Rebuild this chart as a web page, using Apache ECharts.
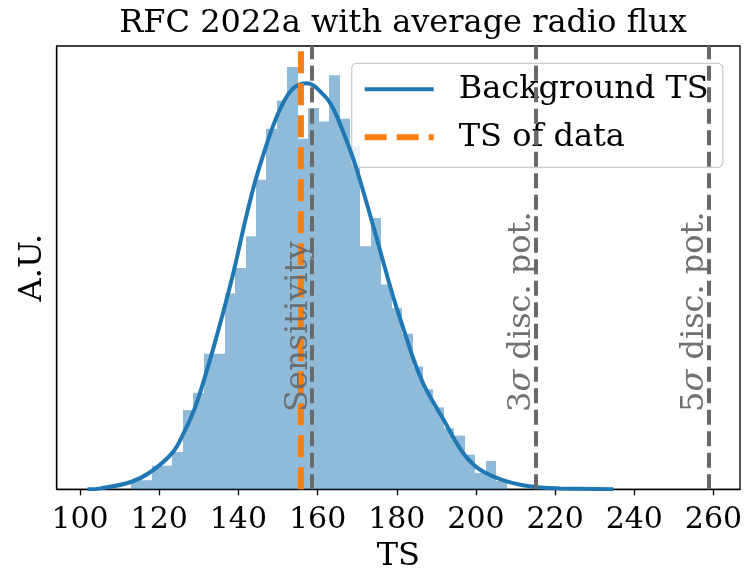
<!DOCTYPE html>
<html><head><meta charset="utf-8">
<script src="https://cdn.jsdelivr.net/npm/echarts@6/dist/echarts.min.js"></script>
<style>html,body{margin:0;padding:0;background:#fff}#c{width:752px;height:569px}</style>
</head><body><div id="c"></div>
<script>
// ---- data ----
const titleText = 'RFC 2022a with average radio flux';
const binEdges = [112.80,115.44,118.07,120.71,123.35,125.99,128.62,131.26,133.90,136.53,139.17,141.81,144.44,147.08,149.72,152.36,154.99,157.63,160.27,162.90,165.54,168.18,170.81,173.45,176.09,178.73,181.36,184.00,186.64,189.27,191.91,194.55,197.18,199.82,202.46,205.10,207.73];
const binCounts = [1.0,1.0,2.6,2.6,4.1,8.7,10.6,14.9,14.9,21.5,24.3,27.8,34.0,39.6,42.7,46.4,38.5,41.9,40.4,45.5,40.7,37.7,26.7,29.8,22.5,19.9,17.1,13.5,11.0,9.0,6.7,5.9,3.8,1.8,3.1,0.9];
const curveTS   = [101.9,105.2,112.8,117.8,123.3,126.2,128.8,131.3,133.8,136.3,138.9,141.4,143.9,146.4,149.0,151.5,154.0,157.2,161.6,164.1,166.6,169.1,171.7,174.2,176.7,179.2,181.8,184.3,186.8,189.3,191.9,194.4,196.9,199.4,202.0,206.2,211.2,216.3,221.3,234.7];
const curveVals = [0.0,0.1,0.8,1.9,4.0,6.2,8.7,12.0,15.7,19.7,24.1,28.9,33.3,36.9,40.2,42.6,44.1,44.6,43.3,41.7,39.1,36.2,32.5,28.7,24.8,21.0,17.5,14.2,11.5,9.5,7.6,5.6,3.9,2.7,1.9,1.1,0.5,0.2,0.1,0.0];
const tsOfData = 155.8;
const refLines = [158.65, 215.0, 258.9];
const refLabels = ['Sensitivity', '3{s|σ} disc. pot.', '5{s|σ} disc. pot.'];
const labelY = 8.5;
const xTicks = [100,120,140,160,180,200,220,240,260];
const xMin = 94.1, xMax = 266.7, yMax = 48.7;
const seriesNames = ['Background TS', 'TS of data'];

const FONT = 'DejaVu Serif';
const BLUE = '#1f77b4', ORANGE = '#ff7f0e', GRAY = '#696969';

const chart = echarts.init(document.getElementById('c'), null, {renderer: 'canvas'});
const histData = binCounts.map((c, i) => [binEdges[i], binEdges[i + 1], c]);
const curveData = curveTS.map((t, i) => [t, curveVals[i]]);

chart.setOption({
  animation: false,
  backgroundColor: '#fff',
  title: {
    text: titleText, left: 398, top: 3, textAlign: 'center',
    textStyle: {fontFamily: FONT, fontSize: 32, fontWeight: 'normal', color: '#000'}
  },
  grid: {left: 56.7, right: 12, top: 46, bottom: 79.7, containLabel: false, outerBoundsMode: 'none',
         show: true, borderColor: '#000', borderWidth: 1.3, backgroundColor: 'transparent'},
  legend: {
    orient: 'vertical', left: 351.7, top: 63.3, padding: [6, 14, 10, 10], itemGap: 8,
    itemWidth: 69, itemHeight: 6, selectedMode: false,
    backgroundColor: 'rgba(255,255,255,0.8)', borderColor: '#cccccc', borderWidth: 1.3, borderRadius: 5,
    textStyle: {fontFamily: FONT, fontSize: 32, color: '#000', lineHeight: 40, padding: [0, 0, 0, 20]},
    data: [
      {name: seriesNames[0], lineStyle: {color: BLUE, width: 4, type: 'solid'}, itemStyle: {color: 'rgba(0,0,0,0)', opacity: 0, borderWidth: 0}},
      {name: seriesNames[1], lineStyle: {color: ORANGE, width: 6, type: [22, 10]}, itemStyle: {color: 'rgba(0,0,0,0)', opacity: 0, borderWidth: 0}}
    ]
  },
  xAxis: {
    type: 'value', min: xMin, max: xMax,
    name: 'TS', nameLocation: 'middle', nameGap: 44,
    nameTextStyle: {fontFamily: FONT, fontSize: 32, color: '#000'},
    axisLine: {show: true, lineStyle: {color: '#000', width: 1.3}},
    axisTick: {show: true, length: 6, lineStyle: {color: '#000', width: 1.3}, customValues: xTicks},
    axisLabel: {show: true, margin: 16, fontFamily: FONT, fontSize: 30, color: '#000', customValues: xTicks},
    splitLine: {show: false}
  },
  yAxis: {
    type: 'value', min: 0, max: yMax,
    name: 'A.U.', nameLocation: 'middle', nameGap: 8, nameRotate: 90,
    nameTextStyle: {fontFamily: FONT, fontSize: 32, color: '#000'},
    axisLine: {show: true, lineStyle: {color: '#000', width: 1.3}},
    axisTick: {show: false}, axisLabel: {show: false}, splitLine: {show: false}
  },
  series: [
    {
      type: 'custom', name: 'hist', z: 1,
      data: histData, encode: {x: [0, 1], y: 2},
      renderItem: function (params, api) {
        const p0 = api.coord([api.value(0), api.value(2)]);
        const p1 = api.coord([api.value(1), 0]);
        const x0 = Math.round(p0[0]), x1 = Math.round(p1[0]);
        return {type: 'rect', shape: {x: x0, y: p0[1], width: x1 - x0, height: p1[1] - p0[1]},
                style: {fill: 'rgba(31,119,180,0.5)'}};
      }
    },
    {
      type: 'line', name: 'refs', z: 3, data: [], silent: true,
      markLine: {
        silent: true, symbol: 'none', label: {show: false},
        lineStyle: {color: GRAY, width: 4, type: [15, 6.5]},
        data: refLines.map(v => ({xAxis: v}))
      }
    },
    {
      type: 'line', name: seriesNames[0], z: 4, data: curveData, symbol: 'none', showSymbol: false,
      smooth: 0.4,
      lineStyle: {color: BLUE, width: 4}, itemStyle: {color: BLUE}
    },
    {
      type: 'line', name: seriesNames[1], z: 5, data: [[tsOfData, 0], [tsOfData, yMax]], symbol: 'none', showSymbol: false,
      lineStyle: {color: ORANGE, width: 6, type: [22, 10]}, itemStyle: {color: ORANGE}
    }
  ]
});

const texts = refLines.map((v, i) => {
  const p = chart.convertToPixel({xAxisIndex: 0, yAxisIndex: 0}, [v, labelY]);
  return {
    type: 'text', x: p[0] + 3, y: p[1], rotation: Math.PI / 2, z: 10, silent: true,
    style: {
      text: refLabels[i], fontFamily: FONT, fontSize: 32, fill: GRAY, opacity: 0.95,
      align: 'left', verticalAlign: 'bottom', lineHeight: 34,
      rich: {s: {fontFamily: FONT, fontSize: 32, fontStyle: 'italic', fill: GRAY, lineHeight: 34}}
    }
  };
});
chart.setOption({graphic: texts});
</script></body></html>
